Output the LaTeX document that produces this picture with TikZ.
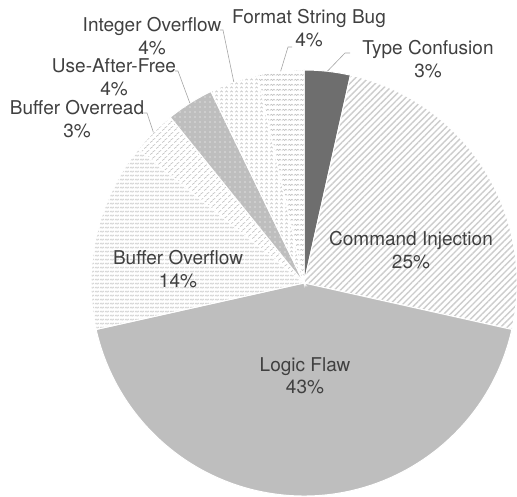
\documentclass[tikz,border=0pt]{standalone}
\usepackage{fontspec}
\setmainfont{TeX Gyre Heros}
\usetikzlibrary{patterns.meta,calc}

\definecolor{txt}{HTML}{404040}
\definecolor{leader}{HTML}{A5A5A5}
\definecolor{darkslice}{HTML}{6E6E6E}
\definecolor{midslice}{HTML}{BEBEBE}
\definecolor{hatchgray}{HTML}{C4C4C4}
\definecolor{softgray}{HTML}{D2D2D2}

% dense horizontal zigzag rows
\tikzdeclarepattern{
  name=zigzag,
  type=uncolored,
  bounding box={(0pt,0pt) and (5pt,3.5pt)},
  tile size={(5pt,3.5pt)},
  code={\draw[line width=0.7pt] (0pt,0.8pt) -- (1.25pt,2.4pt) -- (2.5pt,0.8pt) -- (3.75pt,2.4pt) -- (5pt,0.8pt);}
}
% looser wave rows
\tikzdeclarepattern{
  name=wave,
  type=uncolored,
  bounding box={(0pt,0pt) and (6pt,5pt)},
  tile size={(6pt,5pt)},
  code={\draw[line width=0.7pt] (0pt,1.8pt) -- (1.5pt,3.3pt) -- (3pt,1.8pt) -- (4.5pt,3.3pt) -- (6pt,1.8pt);}
}
% small chevrons
\tikzdeclarepattern{
  name=chevron,
  type=uncolored,
  bounding box={(0pt,0pt) and (5pt,4pt)},
  tile size={(5pt,4pt)},
  code={\draw[line width=0.7pt] (0.4pt,1pt) -- (1.8pt,2.8pt) -- (3.2pt,1pt);}
}
% slanted shingles
\tikzdeclarepattern{
  name=shingle,
  type=uncolored,
  bounding box={(0pt,0pt) and (6pt,6pt)},
  tile size={(6pt,6pt)},
  code={\draw[line width=0.7pt] (0pt,0.5pt) -- (3.2pt,2.6pt); \draw[line width=0.7pt] (3pt,3.4pt) -- (6pt,5.5pt);}
}

\tikzset{
  slice/.style={draw=white, line width=1pt},
  lbl/.style={font=\fontsize{19}{22.5}\selectfont, text=txt, align=center, inner sep=0pt},
  leadline/.style={draw=leader, line width=0.6pt},
}

\newcommand{\pieslice}[3]{%
  \path[slice,#3] (c) -- ++(#1:213pt) arc[start angle=#1, end angle=#2, radius=213pt] -- cycle;}

\begin{document}
\begin{tikzpicture}[x=1pt,y=1pt]
\useasboundingbox (0,0) rectangle (517,497);
\coordinate (c) at (304,214);

% slices, clockwise from the top
\pieslice{90}{77.4}{fill=darkslice}
\pieslice{77.4}{-12.6}{preaction={fill=white}, pattern={Lines[angle=45,distance=4.5pt,line width=1.4pt]}, pattern color=hatchgray!85}
\pieslice{-12.6}{-167.4}{fill=midslice}
\pieslice{-167.4}{-218.9}{preaction={fill=white}, pattern=zigzag, pattern color=softgray}
\pieslice{-218.9}{-231.1}{preaction={fill=white}, pattern=shingle, pattern color=hatchgray}
\pieslice{-231.1}{-244.1}{preaction={fill=midslice}, pattern={Dots[distance=5pt,radius=0.55pt]}, pattern color=white}
\pieslice{-244.1}{-257.4}{preaction={fill=white}, pattern=chevron, pattern color=hatchgray}
\pieslice{-257.4}{-270}{preaction={fill=white}, pattern=wave, pattern color=hatchgray}

% labels
\node[lbl] (tc)  at (428,438) {Type Confusion\\3\%};
\node[lbl] (ci)  at (411,247) {Command Injection\\25\%};
\node[lbl] (lf)  at (305,121) {Logic Flaw\\43\%};
\node[lbl] (bof) at (178,228) {Buffer Overflow\\14\%};
\node[lbl] (bor) at (77,378)  {Buffer Overread\\3\%};
\node[lbl] (uaf) at (114,420) {Use-After-Free\\4\%};
\node[lbl] (io)  at (152,461) {Integer Overflow\\4\%};
\node[lbl] (fs)  at (309,469) {Format String Bug\\4\%};

% leader lines: rim point, elbow, short horizontal run to the label
\coordinate (tcR)  at ($(c)+(83.7:213pt)$);
\coordinate (tcK)  at (345,444);
\coordinate (tcE)  at (350,444);
\coordinate (fsR)  at ($(c)+(96.3:213pt)$);
\coordinate (fsK)  at (288,450);
\coordinate (fsE)  at (292,450);
\coordinate (ioR)  at ($(c)+(109.25:213pt)$);
\coordinate (ioK)  at (223,467);
\coordinate (ioE)  at (220,467);
\coordinate (uafR) at ($(c)+(122.4:213pt)$);
\coordinate (uafK) at (178,426);
\coordinate (uafE) at (175,426);
\coordinate (borR) at ($(c)+(135:213pt)$);
\coordinate (borK) at (147,384);
\coordinate (borE) at (143,384);

\draw[leadline] (tcR) -- (tcK) -- (tcE);
\draw[leadline] (fsR) -- (fsK) -- (fsE);
\draw[leadline] (ioR) -- (ioK) -- (ioE);
\draw[leadline] (uafR) -- (uafK) -- (uafE);
\draw[leadline] (borR) -- (borK) -- (borE);
\end{tikzpicture}
\end{document}
